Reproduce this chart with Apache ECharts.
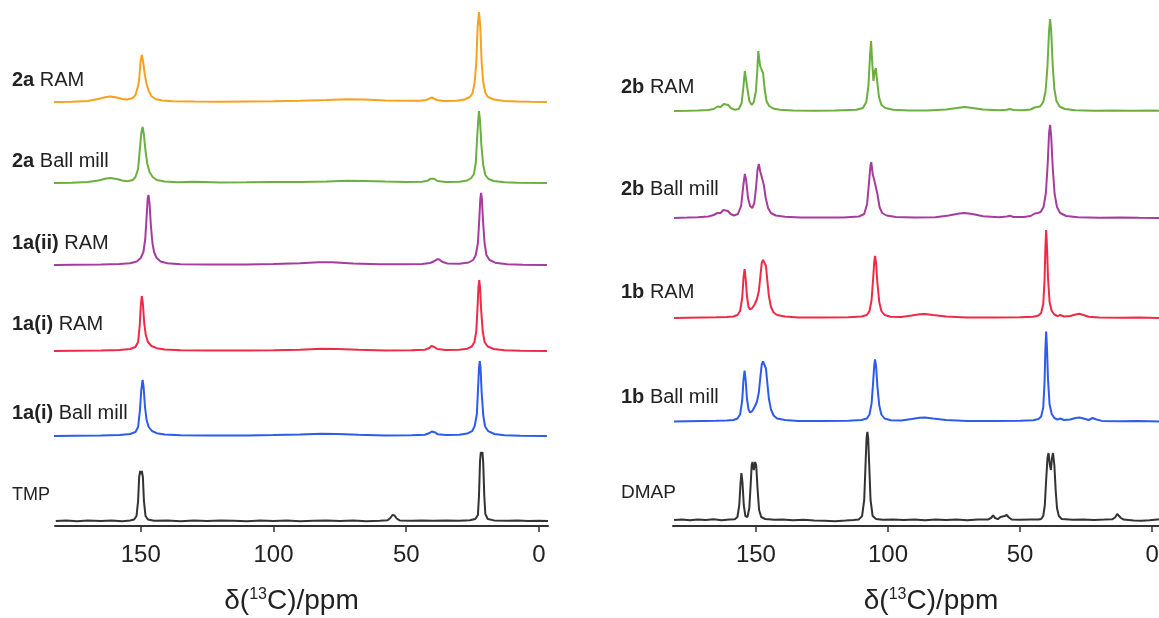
<!DOCTYPE html>
<html>
<head>
<meta charset="utf-8">
<script src="https://cdn.jsdelivr.net/npm/echarts@6/dist/echarts.min.js"></script>
<style>
  html, body {margin: 0; padding: 0; background: #fff;}
  #chart {width: 1159px; height: 618px;}
</style>
</head>
<body>
<div id="chart"></div>
<script>
// spectra: [ppm, intensity above own baseline]
const ram2a = [[184,0],[176,0.3],[170,1],[166,3],[163,5],[161.5,5.5],[159,4.5],[157,3],[155,2.5],[153,4],[152,7],[151,16],[150.6,22],[150.1,40],[149.6,47],[149.1,40],[148.5,28],[147.8,18],[147,11],[146,6],[144.5,3],[142,1.5],[138,0.8],[130,0.5],[120,0.3],[110,0.6],[100,0.8],[90,1.2],[80,2],[72,2.8],[66,2.6],[58,1.6],[50,1.2],[45,1.3],[42.5,2],[41.2,3.5],[40.4,4.5],[39.6,3.5],[38.5,2],[36,1],[31,1.2],[28,2.5],[26,5],[25,9],[24.2,20],[23.6,40],[23.1,75],[22.6,90],[22.1,75],[21.6,40],[21,20],[20.2,9],[19.2,5],[17,2.5],[13,1],[8,0.4],[3,0.2],[-3,0]];
const ball2a = [[184,0],[176,0.3],[170,1],[166,2.5],[163,4.5],[161.5,5],[159,4],[157,2.5],[155,1.8],[153,3],[152,6],[151,14],[150.3,35],[149.8,50],[149.3,56],[148.8,48],[148.2,32],[147.5,19],[146.7,11],[145.5,6],[144,3],[141,1.5],[136,0.8],[130,1.2],[120,0.6],[110,0.7],[100,0.9],[90,1.1],[80,1.6],[72,2.3],[66,2.1],[58,1.4],[50,1],[44,1.2],[42,2.2],[40.8,4.3],[40.1,5.5],[39.4,4.2],[38.3,2],[35,1],[30,1.3],[27,2.5],[25.5,5],[24.5,9],[23.8,20],[23.3,45],[22.9,62],[22.6,72],[22.2,62],[21.7,38],[21,18],[20.2,8],[19,4],[17,2],[13,0.8],[8,0.3],[-3,0]];
const ram1aii = [[184,0],[175,0.3],[165,0.6],[158,1],[154,1.8],[151.5,3.5],[150,7],[149,13],[148.3,26],[147.8,48],[147.4,66],[147.1,70],[146.7,62],[146.2,40],[145.6,22],[145,13],[144,7],[142.5,3.5],[140,1.8],[135,0.8],[125,0.4],[110,0.6],[100,1],[90,1.8],[83,2.8],[78,2.7],[70,1.5],[60,0.8],[50,0.7],[44,1],[41,2],[39.3,4],[38.3,5.8],[37.5,5.5],[36.5,3.2],[34.5,1.5],[30,1.3],[26.5,2.5],[24.8,5],[23.8,10],[23,22],[22.5,45],[22.1,66],[21.8,72],[21.5,66],[21.1,45],[20.5,22],[19.8,10],[18.6,5],[16.5,2.3],[12,0.8],[6,0.3],[-3,0]];
const ram1ai = [[184,0],[175,0.3],[165,0.6],[158,1],[154,2],[152,4],[151,9],[150.4,25],[150,45],[149.6,55],[149.2,47],[148.7,28],[148.1,16],[147.3,9],[146,5],[144,2.8],[141,1.5],[135,0.7],[125,0.4],[110,0.6],[100,0.8],[90,1.3],[82,2.2],[76,2],[68,1.2],[58,0.6],[48,0.7],[43,1.3],[41.3,3],[40.5,5],[40,5.5],[39.4,4],[38.3,2],[35,1],[30,1.2],[27,2.3],[25.3,4.5],[24.3,9],[23.6,20],[23.1,46],[22.8,64],[22.5,71],[22.2,64],[21.8,42],[21.2,20],[20.5,9],[19.3,4.5],[17,2],[13,0.8],[7,0.3],[-3,0]];
const ball1ai = [[184,0],[175,0.3],[165,0.6],[158,1],[154,2],[152,4],[151,9],[150.3,26],[149.8,46],[149.3,56],[148.9,48],[148.4,29],[147.8,16],[147,9],[145.8,5],[144,2.8],[141,1.5],[135,0.7],[125,0.4],[110,0.6],[100,0.9],[90,1.4],[82,2.2],[76,2],[68,1.2],[58,0.6],[48,0.7],[43,1.3],[41.2,3],[40.4,4.5],[39.9,5],[39.3,3.8],[38.2,1.8],[35,1],[30,1.2],[27,2.4],[25.2,4.8],[24.2,10],[23.4,22],[22.9,50],[22.6,68],[22.3,75],[22,68],[21.6,44],[21,21],[20.3,9.5],[19.1,4.8],[16.8,2],[13,0.8],[7,0.3],[-3,0]];
const tmp = [[182,0],[178,0.5],[174,-0.3],[170,0.4],[165,0],[161,0.6],[157,-0.2],[154,0.5],[152.5,1.5],[151.6,5],[151,20],[150.6,44],[150.2,50],[149.9,47],[149.6,50],[149.2,44],[148.8,20],[148.2,5],[147.3,1.5],[145,0.3],[140,0.6],[135,-0.2],[130,0.5],[125,0],[120,0.6],[115,0.2],[110,-0.3],[105,0.4],[100,0],[95,0.5],[90,-0.2],[85,0.3],[80,0.6],[75,0],[70,0.4],[65,-0.2],[60,0.3],[57,0.8],[56,3],[55.2,6],[54.4,5.5],[53.6,2.5],[52.5,0.6],[48,0.2],[44,0.5],[40,0.3],[35,0.6],[30,0.2],[26,0.8],[24,2],[23,6],[22.6,25],[22.2,60],[21.9,69],[21.6,66],[21.3,69],[21,58],[20.6,25],[20.2,7],[19.3,2],[17,0.6],[12,0.2],[8,0.5],[4,0],[0,0.3],[-3.4,0]];

const ram2b = [[181,0],[176,0.3],[172,0.6],[168,1],[166,2],[164.5,4.5],[163.3,4],[162.2,7],[161.5,8],[160.5,6],[159.5,3],[158,1.2],[156.5,2],[155.4,8],[154.7,25],[154.2,40],[153.8,38],[153.2,22],[152.5,10],[151.6,6],[150.8,9],[150,20],[149.5,40],[149.1,60],[148.8,62],[148.4,45],[147.8,41],[147.3,38],[146.7,22],[146,10],[145,5],[143.5,2.5],[141,1.2],[136,0.5],[128,0.3],[120,0.6],[112,1.2],[109.5,3],[108.2,9],[107.4,25],[106.8,55],[106.4,70],[106,50],[105.5,30],[105,40],[104.6,43],[104.1,30],[103.4,14],[102.5,6],[101,3],[98,1.2],[92,0.5],[85,0.6],[78,1.5],[74,3],[71,4],[68,3],[64,1.5],[58,0.7],[55,1.2],[53.8,2],[52.5,1],[49,0.8],[46,1.5],[44.5,3.5],[43.6,4],[42.4,4.5],[41.2,9],[40.3,20],[39.6,45],[39,80],[38.6,92],[38.2,80],[37.6,45],[37,22],[36.2,10],[35,4.5],[33,2],[29,0.8],[22,0.3],[15,0.5],[8,0.2],[0,0.4],[-5,0]];
const ball2b = [[181,0],[176,0.4],[172,0.8],[168,1.5],[166,3],[164.6,5],[163.4,5],[162.3,8],[161.6,9],[160.6,7],[159.6,4],[158.3,2.5],[156.8,4],[155.6,12],[154.8,32],[154.2,44],[153.7,38],[153,20],[152.2,12],[151.4,10],[150.6,15],[149.9,32],[149.4,48],[148.9,54],[148.4,47],[147.7,40],[147,33],[146.3,20],[145.4,10],[144.3,5],[142.5,2.5],[139,1.2],[133,0.5],[125,0.4],[117,0.6],[111,1.5],[109,4],[107.9,14],[107.1,38],[106.6,53],[106.3,56],[105.8,44],[105.2,38],[104.6,36],[104,24],[103.2,11],[102.2,5],[100.5,2.5],[97,1],[90,0.5],[82,0.8],[77,2.5],[73,4.5],[71,5],[68,4],[64,1.8],[58,0.8],[55,1.5],[53.8,2.2],[52.5,1],[48.5,1],[46,2],[44.4,4.5],[43.2,5],[42.2,6],[41.1,11],[40.2,25],[39.5,55],[39,85],[38.6,93],[38.2,82],[37.6,50],[36.9,24],[36,11],[34.8,5],[32.5,2],[28,0.8],[20,0.3],[12,0.5],[5,0.2],[-5,0]];
const ram1b = [[181,0],[176,0.3],[170,0.6],[165,0.8],[161,1],[158.5,1.5],[157,3],[156,7],[155.2,20],[154.7,40],[154.3,49],[153.9,40],[153.4,22],[152.8,11],[152.2,8.5],[151.4,10],[150.4,14],[149.6,19],[148.9,27],[148.3,42],[147.8,55],[147.3,58],[146.7,58],[146.2,52],[145.7,38],[145.1,22],[144.3,11],[143.3,5.5],[142,3],[139,1.5],[134,0.6],[125,0.4],[115,0.8],[110,1.5],[108,3],[107,7],[106.2,18],[105.6,40],[105.2,56],[104.9,62],[104.5,55],[104,35],[103.3,16],[102.5,7],[101.3,3],[99,1.2],[95,1],[91,2.5],[88,3.8],[86,4],[83,3],[78,1.5],[70,0.6],[60,0.4],[50,0.8],[45,1.3],[43,2.5],[42,5],[41.2,14],[40.7,38],[40.4,70],[40.1,88],[39.8,72],[39.4,40],[38.8,16],[38,7],[37,3.5],[35.8,1.8],[34.8,3],[34.2,2.8],[33.3,1.5],[31,2],[29,3.5],[27.5,4.2],[26,3],[24,1.2],[20,0.5],[12,0.3],[5,0.4],[-5,0]];
const ball1b = [[181,0],[176,0.3],[170,0.6],[165,0.8],[161,1],[158.5,1.5],[157,3],[156,7],[155.2,21],[154.7,42],[154.3,51],[153.9,42],[153.4,23],[152.8,12],[152.2,9],[151.4,10.5],[150.4,15],[149.6,20],[148.9,29],[148.3,45],[147.8,57],[147.3,60],[146.7,60],[146.2,53],[145.7,39],[145.1,23],[144.3,12],[143.3,6],[142,3],[139,1.5],[134,0.6],[125,0.4],[115,0.8],[110,1.5],[108,3],[107,7],[106.2,18],[105.6,40],[105.2,56],[104.9,62],[104.5,55],[104,35],[103.3,16],[102.5,7],[101.3,3],[99,1.2],[95,1],[91,2.5],[88,3.8],[86,4],[83,3],[78,1.5],[70,0.6],[60,0.4],[50,0.8],[45,1.3],[43,2.5],[42,5],[41.2,14],[40.7,40],[40.4,72],[40.1,90],[39.8,74],[39.4,42],[38.8,17],[38,7.5],[37,3.5],[35.8,1.8],[34.8,3],[34.2,2.8],[33.3,1.5],[31,2],[29,3.5],[27.5,4],[26,3],[24,1.5],[22.5,3.5],[21.8,4],[21,2],[19,0.6],[12,0.3],[5,0.4],[-5,0]];
const dmap = [[181,0],[178,0.6],[175,-0.3],[172,0.5],[169,0],[166,0.7],[163,-0.2],[160,0.4],[158,0.8],[157,3],[156.3,15],[155.8,38],[155.5,47],[155.1,38],[154.6,15],[154,4],[153.2,3],[152.5,12],[152,35],[151.6,55],[151.3,58],[150.8,50],[150.3,58],[149.9,55],[149.4,32],[148.8,10],[148,3],[146.5,1],[143,0.3],[140,0.6],[136,-0.2],[132,0.3],[128,-0.6],[124,-0.8],[120,-1.2],[116,-0.6],[113,0],[111,0.6],[109.8,4],[109,20],[108.5,55],[108.1,82],[107.8,88],[107.5,82],[107.1,55],[106.6,20],[105.8,4],[104.5,1],[102,0.2],[98,0.6],[94,0],[90,0.4],[86,-0.3],[82,0.5],[78,0],[74,0.5],[70,-0.3],[66,0.4],[62,0.6],[61,2],[60.2,4.5],[59.4,2],[58.4,0.8],[57.4,3],[56.7,5],[55.8,4],[55,5],[54.2,2.5],[53.2,0.6],[50,0.2],[46,0.6],[43,0.5],[42,1],[41.2,4],[40.6,15],[40.1,40],[39.6,62],[39.2,67],[38.7,55],[38.3,50],[37.9,62],[37.5,67],[37,55],[36.5,30],[36,12],[35.3,4],[34.2,1],[30,0.2],[26,0.5],[22,0],[18,0.4],[15,0.8],[14,2.5],[13.2,6],[12.6,5.5],[11.8,2],[10.8,0.4],[7,-0.6],[4,-0.8],[1,-0.3],[-2,0.5],[-5,0]];

const leftTraces = [ram2a, ball2a, ram1aii, ram1ai, ball1ai, tmp];
const leftOffsets = [424, 343, 261, 175, 90, 5];
const leftLabels = [['2a', ' RAM'], ['2a', ' Ball mill'], ['1a(ii)', ' RAM'], ['1a(i)', ' RAM'], ['1a(i)', ' Ball mill'], ['', 'TMP']];

const rightTraces = [ram2b, ball2b, ram1b, ball1b, dmap];
const rightOffsets = [415, 308, 208, 104.5, 6];
const rightLabels = [['2b', ' RAM'], ['2b', ' Ball mill'], ['1b', ' RAM'], ['1b', ' Ball mill'], ['', 'DMAP']];

const tickValues = [0, 50, 100, 150];

const F = '"Liberation Sans", Arial, sans-serif';
const leftColors = ['#F7A21E', '#6BAF3E', '#A53C9E', '#EF2A46', '#2D5BEA', '#333333'];
const rightColors = ['#6BAF3E', '#A53C9E', '#EF2A46', '#2D5BEA', '#333333'];
const leftLabelY = [80, 161, 243, 324, 413, 495];
const rightLabelY = [87, 189, 292, 397, 493];

const chart = echarts.init(document.getElementById('chart'));

function xAxis(gridIndex, min, max, namePad) {
  return {
    type: 'value', gridIndex, inverse: true, min, max,
    axisLine: {show: true, lineStyle: {color: '#333', width: 2}},
    axisTick: {show: true, length: 6, lineStyle: {color: '#333', width: 1.5}, customValues: tickValues},
    axisLabel: {customValues: tickValues, color: '#222', fontSize: 24, fontFamily: F, margin: 17},
    splitLine: {show: false},
    name: '{a|δ(}{s|13}{a|C)/ppm}',
    nameLocation: 'middle',
    nameGap: 61,
    nameTextStyle: {
      padding: namePad,
      rich: {
        a: {fontSize: 28, fontFamily: F, color: '#222'},
        s: {fontSize: 16, fontFamily: F, color: '#222', verticalAlign: 'top', padding: [0, 0, 10, 0]}
      }
    }
  };
}
function yAxis(gridIndex) {
  return {type: 'value', gridIndex, min: 0, max: 526, show: false};
}

const series = [];
leftTraces.forEach((d, i) => series.push({
  type: 'line', xAxisIndex: 0, yAxisIndex: 0, showSymbol: false, animation: false,
  data: d.map(p => [p[0], p[1] + leftOffsets[i]]),
  lineStyle: {color: leftColors[i], width: 2}, itemStyle: {color: leftColors[i]}
}));
rightTraces.forEach((d, i) => series.push({
  type: 'line', xAxisIndex: 1, yAxisIndex: 1, showSymbol: false, animation: false,
  data: d.map(p => [p[0], p[1] + rightOffsets[i]]),
  lineStyle: {color: rightColors[i], width: 2}, itemStyle: {color: rightColors[i]}
}));

function label(x, y, parts, size) {
  return {
    type: 'text', x, y,
    style: {
      text: (parts[0] ? '{b|' + parts[0] + '}' : '') + '{n|' + parts[1] + '}',
      verticalAlign: 'middle', align: 'left', fill: '#222',
      rich: {
        b: {fontWeight: 'bold', fontSize: size, fontFamily: F, color: '#222'},
        n: {fontSize: size, fontFamily: F, color: '#222'}
      }
    }
  };
}
const graphics = [];
leftLabels.forEach((p, i) => graphics.push(label(12, leftLabelY[i], p, i === 5 ? 18 : 20)));
rightLabels.forEach((p, i) => graphics.push(label(621, rightLabelY[i], p, i === 4 ? 19 : 20)));

chart.setOption({
  animation: false,
  grid: [
    {left: 55, top: 0, width: 493, height: 526, outerBoundsMode: 'none', containLabel: false},
    {left: 673, top: 0, width: 492, height: 526, outerBoundsMode: 'none', containLabel: false}
  ],
  xAxis: [xAxis(0, -3.4, 182.3, [0, 20, 0, 0]), xAxis(1, -4.9, 181.4, [0, 0, 0, 24])],
  yAxis: [yAxis(0), yAxis(1)],
  series,
  graphic: graphics
});
</script>
</body>
</html>
